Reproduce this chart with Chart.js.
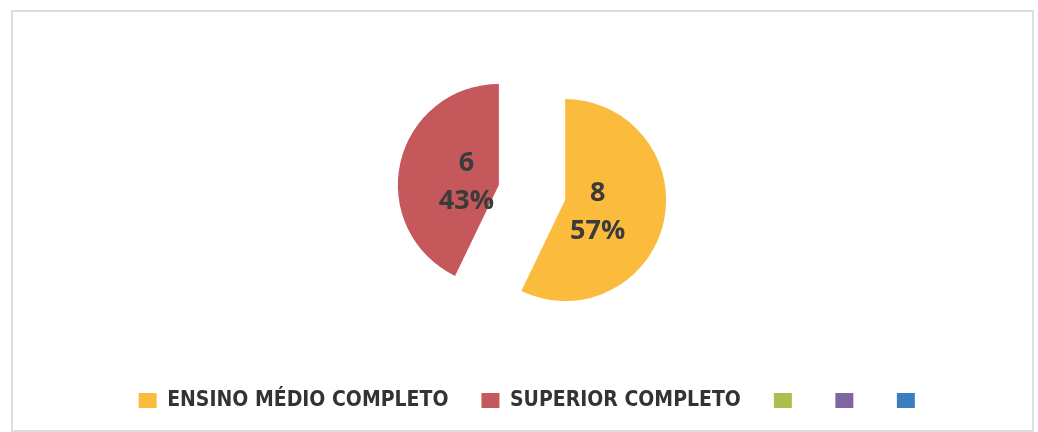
<!DOCTYPE html>
<html>
<head>
<meta charset="utf-8">
<script src="https://cdn.jsdelivr.net/npm/chart.js@4/dist/chart.umd.min.js"></script>
<style>
  html, body { margin: 0; padding: 0; background: #fff; }
  #wrap { position: relative; width: 1038px; height: 432px; }
  #frame { position: absolute; left: 11px; top: 10px; width: 1019px; height: 418px;
           border: 2px solid #dedede; pointer-events: none; }
</style>
</head>
<body>
<div id="wrap">
  <canvas id="chart" width="1038" height="432"></canvas>
  <div id="frame"></div>
</div>
<script>
var categories = ['ENSINO MÉDIO COMPLETO', 'SUPERIOR COMPLETO', '', '', '']
var values = [8, 6, 0, 0, 0]
var colors = ['#FBBC3E', '#C4585A', '#A9C04E', '#8066A0', '#3A7EC0']

var EXPLODE = 34 // px each slice is pulled out along its bisector

// pull slices apart without the radius growth that the built-in offset adds
var explodeSlices = {
  id: 'explodeSlices',
  beforeDatasetsDraw: function (chart) {
    chart.getDatasetMeta(0).data.forEach(function (arc) {
      if (arc._exploded) return
      var orig = arc.draw
      arc.draw = function (c, area) {
        var a = (this.startAngle + this.endAngle) / 2
        c.save()
        c.translate(Math.cos(a) * EXPLODE, Math.sin(a) * EXPLODE)
        orig.call(this, c, area)
        c.restore()
      }
      arc._exploded = true
    })
  }
}

// value + percentage drawn inside each slice
var sliceLabels = {
  id: 'sliceLabels',
  afterDatasetsDraw: function (chart) {
    var ctx = chart.ctx
    var meta = chart.getDatasetMeta(0)
    var total = values.reduce(function (a, b) { return a + b }, 0)
    ctx.save()
    ctx.font = 'bold 27px "Open Sans", "DejaVu Sans", sans-serif'
    ctx.fillStyle = '#3b3b3b'
    ctx.textAlign = 'center'
    ctx.textBaseline = 'middle'
    meta.data.forEach(function (arc, i) {
      if (!values[i]) return
      var p = arc.getProps(['x', 'y', 'startAngle', 'endAngle', 'outerRadius'], true)
      var a = (p.startAngle + p.endAngle) / 2
      var d = EXPLODE + p.outerRadius * 0.33
      var px = p.x + Math.cos(a) * d
      var py = p.y + Math.sin(a) * d + 5
      ctx.fillText(String(values[i]), px, py - 19)
      ctx.fillText(Math.round(values[i] / total * 100) + '%', px, py + 19)
    })
    ctx.restore()
  }
}

var ctx = document.getElementById('chart').getContext('2d')
var myChart = new Chart(ctx, {
  type: 'pie',
  data: {
    labels: categories,
    datasets: [
      {
        data: values,
        backgroundColor: colors,
        borderWidth: 0,
      },
    ],
  },
  options: {
    responsive: false,
    animation: false,
    radius: 101,
    layout: { padding: { left: 26, right: 0, top: 28, bottom: 11 } },
    plugins: {
      tooltip: { enabled: false },
      legend: {
        position: 'bottom',
        labels: {
          boxWidth: 18,
          boxHeight: 15,
          padding: 33,
          color: '#333333',
          font: { family: '"Liberation Sans Narrow", "DejaVu Sans Condensed", "Open Sans", sans-serif', size: 21, weight: 'bold' },
        },
      },
    },
  },
  plugins: [explodeSlices, sliceLabels],
})
</script>
</body>
</html>
